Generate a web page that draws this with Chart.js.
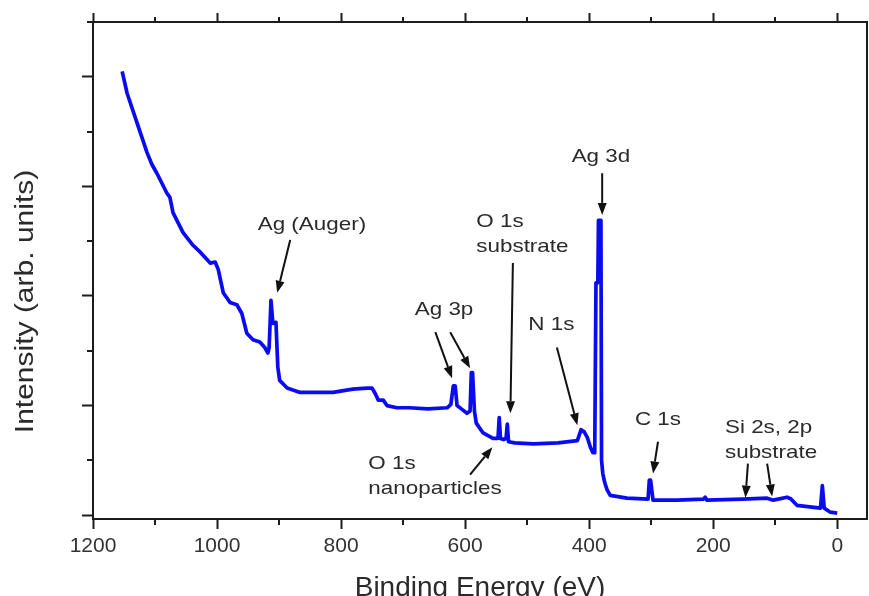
<!DOCTYPE html>
<html>
<head>
<meta charset="utf-8">
<script src="https://cdn.jsdelivr.net/npm/chart.js@4.4.1/dist/chart.umd.min.js"></script>
<style>
  html, body { margin: 0; padding: 0; background: #fff; overflow: hidden; }
  #wrap { width: 869px; height: 596px; }
</style>
</head>
<body>
<div id="wrap"><canvas id="xps"></canvas></div>
<script>
// XPS survey spectrum
const energy = [1153, 1145, 1129, 1113, 1105, 1097, 1081, 1076, 1071, 1055, 1040, 1027,
  1011, 1003, 998, 990, 979, 968, 960, 952, 942, 931, 923, 918, 916, 913, 910, 905,
  902, 899, 887, 866, 813, 781, 758, 750, 745, 740, 732, 726, 710, 690, 660, 629,
  623, 619, 616, 613, 606, 597, 592, 590, 588, 585, 582, 571, 555, 547, 545, 543,
  538, 534, 532, 530, 520, 490, 450, 419, 413, 408, 403, 398, 394, 391, 389, 386,
  385, 381, 380, 378, 375, 371, 366, 339, 305, 303, 301, 297, 258, 216, 213, 210,
  152, 113, 103, 81, 75, 65, 27, 24, 23, 21, 11, 0];
const intensity = [4.05, 3.85, 3.58, 3.31, 3.20, 3.12, 2.94, 2.90, 2.76, 2.58, 2.47, 2.40,
  2.30, 2.31, 2.24, 2.03, 1.94, 1.92, 1.84, 1.66, 1.60, 1.58, 1.53, 1.48, 1.53, 1.96, 1.75, 1.76,
  1.35, 1.23, 1.16, 1.12, 1.12, 1.15, 1.16, 1.16, 1.11, 1.05, 1.05, 1.00, 0.98, 0.98, 0.97, 0.98,
  1.01, 1.18, 1.18, 1.00, 0.97, 0.93, 0.95, 1.30, 1.30, 0.95, 0.84, 0.75, 0.70, 0.70, 0.89, 0.70,
  0.69, 0.70, 0.83, 0.67, 0.66, 0.65, 0.66, 0.68, 0.78, 0.76, 0.71, 0.62, 0.57, 0.57, 2.12, 2.12,
  2.69, 2.69, 0.50, 0.38, 0.30, 0.23, 0.18, 0.155, 0.146, 0.32, 0.32, 0.137, 0.137, 0.146, 0.164, 0.137,
  0.146, 0.155, 0.137, 0.164, 0.15, 0.09, 0.064, 0.27, 0.27, 0.064, 0.027, 0.018];

// axis ticks
const xMajor = [1200, 1000, 800, 600, 400, 200, 0];
const xMinor = [1100, 900, 700, 500, 300, 100];
const yMajor = [0, 1, 2, 3, 4];
const yMinor = [0.5, 1.5, 2.5, 3.5];
const xMin = -48, xMax = 1200;
const yMin = -0.035, yMax = 4.5;

// peak labels (data coords) and arrows [fromX, fromY, toX, toY]
const peakLabels = [
  { lines: ['Ag (Auger)'], x: 847, y: 2.65, align: 'center' },
  { lines: ['Ag 3d'], x: 381, y: 3.27, align: 'center' },
  { lines: ['O 1s', 'substrate'], x: 582, y: 2.68, align: 'left' },
  { lines: ['Ag 3p'], x: 634, y: 1.87, align: 'center' },
  { lines: ['N 1s'], x: 461, y: 1.74, align: 'center' },
  { lines: ['C 1s'], x: 289, y: 0.87, align: 'center' },
  { lines: ['Si 2s, 2p', 'substrate'], x: 181, y: 0.80, align: 'left' },
  { lines: ['O 1s', 'nanoparticles'], x: 756, y: 0.47, align: 'left' }
];
const peakArrows = [
  [882, 2.51, 903, 2.03],
  [379, 3.12, 379, 2.74],
  [523, 2.30, 527, 0.93],
  [648, 1.67, 621, 1.25],
  [624, 1.67, 592, 1.34],
  [452, 1.53, 419, 0.82],
  [289, 0.67, 297, 0.38],
  [144, 0.47, 148, 0.16],
  [113, 0.47, 105, 0.17],
  [592, 0.37, 556, 0.62]
];
const yTitle = 'Intensity (arb. units)';

const axisColor = '#1c1c1c';
const textColor = '#2a2a2a';
const fontFamily = '"Liberation Sans", Arial, sans-serif';

function drawArrow(ctx, x1, y1, x2, y2) {
  const ang = Math.atan2(y2 - y1, x2 - x1);
  const head = 12, half = 4.5;
  const bx = x2 - head * Math.cos(ang), by = y2 - head * Math.sin(ang);
  ctx.beginPath();
  ctx.moveTo(x1, y1);
  ctx.lineTo(bx, by);
  ctx.stroke();
  ctx.beginPath();
  ctx.moveTo(x2, y2);
  ctx.lineTo(bx + half * Math.sin(ang), by - half * Math.cos(ang));
  ctx.lineTo(bx - half * Math.sin(ang), by + half * Math.cos(ang));
  ctx.closePath();
  ctx.fill();
}

// short minor ticks on bottom, top and left axes
const minorTicks = {
  id: 'minorTicks',
  afterDraw(chart) {
    const { ctx, chartArea, scales } = chart;
    ctx.save();
    ctx.strokeStyle = axisColor;
    ctx.lineWidth = 2;
    ctx.beginPath();
    xMinor.forEach(v => {
      const px = Math.round(scales.x.getPixelForValue(v));
      ctx.moveTo(px, chartArea.bottom);
      ctx.lineTo(px, chartArea.bottom + 6);
      ctx.moveTo(px, chartArea.top);
      ctx.lineTo(px, chartArea.top - 5);
    });
    yMinor.forEach(v => {
      const py = Math.round(scales.y.getPixelForValue(v));
      ctx.moveTo(chartArea.left - 6, py);
      ctx.lineTo(chartArea.left, py);
    });
    // top axis runs a little past the left axis
    ctx.moveTo(chartArea.left - 6, chartArea.top);
    ctx.lineTo(chartArea.left, chartArea.top);
    ctx.stroke();
    ctx.restore();
  }
};

// peak labels, arrows and the y axis title
const peakNotes = {
  id: 'peakNotes',
  afterDatasetsDraw(chart) {
    const { ctx, scales, chartArea } = chart;
    ctx.save();
    ctx.fillStyle = textColor;
    ctx.font = '19px ' + fontFamily;
    ctx.textBaseline = 'middle';
    peakLabels.forEach(l => {
      const px = scales.x.getPixelForValue(l.x);
      const py = scales.y.getPixelForValue(l.y);
      l.lines.forEach((t, i) => {
        ctx.save();
        ctx.translate(px, py + i * 25);
        ctx.scale(1.18, 1);
        ctx.textAlign = l.align;
        ctx.fillText(t, 0, 0);
        ctx.restore();
      });
    });
    ctx.strokeStyle = '#111';
    ctx.fillStyle = '#111';
    ctx.lineWidth = 2;
    peakArrows.forEach(a => {
      drawArrow(ctx,
        scales.x.getPixelForValue(a[0]), scales.y.getPixelForValue(a[1]),
        scales.x.getPixelForValue(a[2]), scales.y.getPixelForValue(a[3]));
    });

    // y title sits lower than the axis middle in the original
    ctx.save();
    ctx.fillStyle = textColor;
    ctx.font = '25px ' + fontFamily;
    ctx.textAlign = 'center';
    ctx.textBaseline = 'middle';
    ctx.translate(26, scales.y.getPixelForValue(1.95));
    ctx.rotate(-Math.PI / 2);
    ctx.scale(1.2, 1);
    ctx.fillText(yTitle, 0, 0);
    ctx.restore();
    ctx.restore();
  }
};

function initChart() {
  const ctx = document.getElementById('xps').getContext('2d');
  const points = energy.map((e, i) => ({ x: e, y: intensity[i] }));

  new Chart(ctx, {
    type: 'scatter',
    data: {
      datasets: [{
        data: points,
        showLine: true,
        borderColor: '#0b0bef',
        borderWidth: 3.7,
        pointRadius: 0,
        tension: 0,
        borderJoinStyle: 'round'
      }]
    },
    options: {
      responsive: true,
      maintainAspectRatio: false,
      animation: false,
      layout: { padding: 0 },
      plugins: { legend: { display: false }, tooltip: { enabled: false } },
      scales: {
        x: {
          type: 'linear', position: 'bottom', reverse: true, min: xMin, max: xMax,
          afterBuildTicks: s => { s.ticks = xMajor.map(v => ({ value: v })); },
          afterFit: s => { s.height = 77; },
          ticks: {
            color: '#333', padding: 5, maxRotation: 0, autoSkip: false,
            font: { family: fontFamily, size: 21 },
            callback: v => String(v)
          },
          grid: { drawOnChartArea: false, tickLength: 10, tickWidth: 2, tickColor: axisColor },
          border: { color: axisColor, width: 2 },
          title: {
            display: true, text: 'Binding Energy (eV)', color: textColor,
            font: { family: fontFamily, size: 28 }, padding: { top: 0, bottom: -9 }
          }
        },
        x2: {
          type: 'linear', position: 'top', reverse: true, min: xMin, max: xMax,
          afterBuildTicks: s => { s.ticks = xMajor.map(v => ({ value: v })); },
          afterFit: s => { s.height = 22; },
          ticks: { display: false },
          grid: { drawOnChartArea: false, tickLength: 9, tickWidth: 2, tickColor: axisColor },
          border: { color: axisColor, width: 2 }
        },
        y: {
          type: 'linear', position: 'left', min: yMin, max: yMax,
          afterBuildTicks: s => { s.ticks = yMajor.map(v => ({ value: v })); },
          afterFit: s => { s.width = 93; },
          ticks: { display: false },
          grid: { drawOnChartArea: false, tickLength: 11, tickWidth: 2, tickColor: axisColor },
          border: { color: axisColor, width: 2 }
        },
        y2: {
          type: 'linear', position: 'right', min: yMin, max: yMax,
          afterFit: s => { s.width = 2; },
          ticks: { display: false },
          grid: { display: false },
          border: { color: axisColor, width: 2 }
        }
      }
    },
    plugins: [minorTicks, peakNotes]
  });
}

document.addEventListener('DOMContentLoaded', initChart);
</script>
</body>
</html>
